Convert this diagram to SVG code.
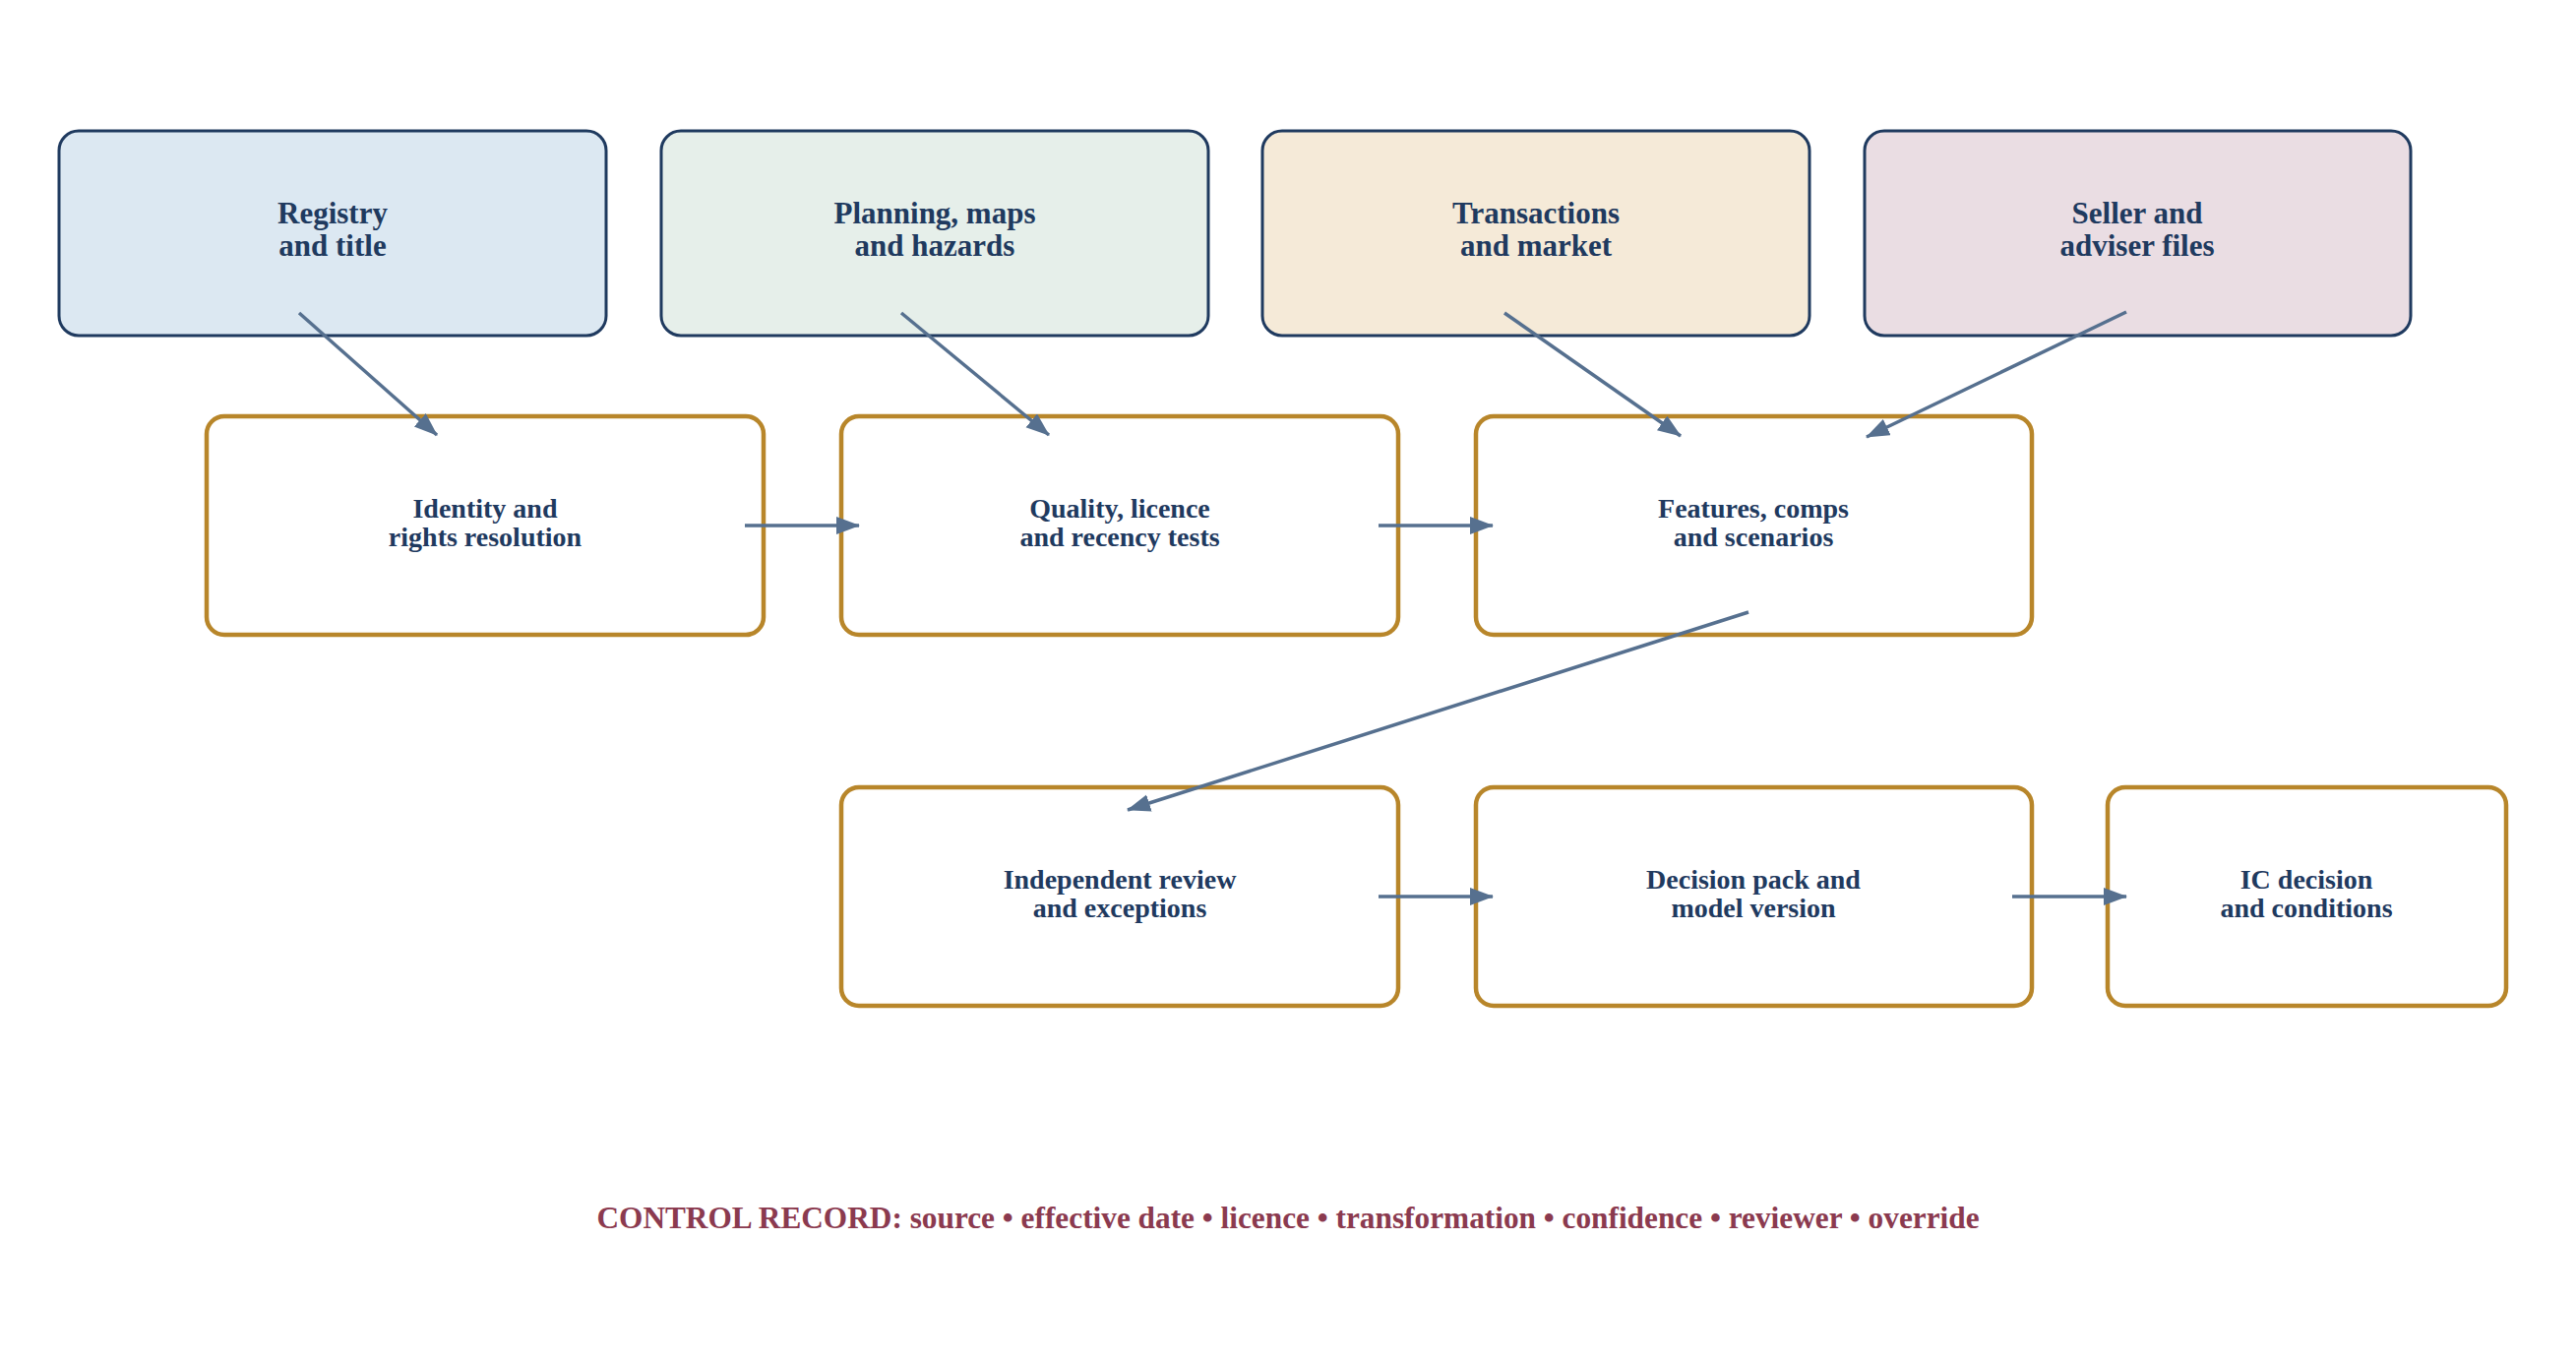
<svg xmlns="http://www.w3.org/2000/svg" width="2618" height="1386" viewBox="0 0 2618 1386">
<style>
.src{stroke:#1f3a5f;stroke-width:3}
.stage{fill:#ffffff;stroke:#b8862a;stroke-width:4.5}
.t1{font-family:"Liberation Serif","Times New Roman",serif;font-weight:bold;font-size:31px;fill:#1f3a5f;text-anchor:middle}
.t2{font-family:"Liberation Serif","Times New Roman",serif;font-weight:bold;font-size:28px;fill:#1f3a5f;text-anchor:middle}
.cap{font-family:"Liberation Serif","Times New Roman",serif;font-weight:bold;font-size:31.3px;fill:#8b3a4f;text-anchor:middle}
.conn line{stroke:#56708f;stroke-width:3.5;fill:none;marker-end:url(#ah)}
</style>
<defs>
<marker id="ah" markerUnits="userSpaceOnUse" markerWidth="26" markerHeight="20" refX="23" refY="9" orient="auto">
<path d="M0,0 L24,9 L0,18 Z" fill="#56708f"/>
</marker>
</defs>
<rect width="2618" height="1386" fill="#ffffff"/>

<g id="registry">
<rect class="src" x="60" y="133" width="556" height="208" rx="20" fill="#dce8f2"/>
<text class="t1" x="338" y="227">Registry</text>
<text class="t1" x="338" y="260">and title</text>
</g>
<g id="planning">
<rect class="src" x="672" y="133" width="556" height="208" rx="20" fill="#e6efea"/>
<text class="t1" x="950" y="227">Planning, maps</text>
<text class="t1" x="950" y="260">and hazards</text>
</g>
<g id="transactions">
<rect class="src" x="1283" y="133" width="556" height="208" rx="20" fill="#f5ead8"/>
<text class="t1" x="1561" y="227">Transactions</text>
<text class="t1" x="1561" y="260">and market</text>
</g>
<g id="seller">
<rect class="src" x="1895" y="133" width="555" height="208" rx="20" fill="#eaddE3"/>
<text class="t1" x="2172" y="227">Seller and</text>
<text class="t1" x="2172" y="260">adviser files</text>
</g>

<g id="identity">
<rect class="stage" x="210" y="423" width="566" height="222" rx="18"/>
<text class="t2" x="493" y="526">Identity and</text>
<text class="t2" x="493" y="555">rights resolution</text>
</g>
<g id="quality">
<rect class="stage" x="855" y="423" width="566" height="222" rx="18"/>
<text class="t2" x="1138" y="526">Quality, licence</text>
<text class="t2" x="1138" y="555">and recency tests</text>
</g>
<g id="features">
<rect class="stage" x="1500" y="423" width="565" height="222" rx="18"/>
<text class="t2" x="1782" y="526">Features, comps</text>
<text class="t2" x="1782" y="555">and scenarios</text>
</g>

<g id="review">
<rect class="stage" x="855" y="800" width="566" height="222" rx="18"/>
<text class="t2" x="1138" y="903">Independent review</text>
<text class="t2" x="1138" y="932">and exceptions</text>
</g>
<g id="decision">
<rect class="stage" x="1500" y="800" width="565" height="222" rx="18"/>
<text class="t2" x="1782" y="903">Decision pack and</text>
<text class="t2" x="1782" y="932">model version</text>
</g>
<g id="ic">
<rect class="stage" x="2142" y="800" width="405" height="222" rx="18"/>
<text class="t2" x="2344" y="903">IC decision</text>
<text class="t2" x="2344" y="932">and conditions</text>
</g>

<g id="connectors" class="conn">
<line x1="304" y1="318" x2="444" y2="442"/>
<line x1="916" y1="318" x2="1066" y2="442"/>
<line x1="1529" y1="318" x2="1708" y2="443"/>
<line x1="2161" y1="317" x2="1897" y2="444"/>
<line x1="757" y1="534" x2="873" y2="534"/>
<line x1="1401" y1="534" x2="1517" y2="534"/>
<line x1="1777" y1="622" x2="1146" y2="823"/>
<line x1="1401" y1="911" x2="1517" y2="911"/>
<line x1="2045" y1="911" x2="2161" y2="911"/>
</g>

<text class="cap" x="1309" y="1248">CONTROL RECORD: source • effective date • licence • transformation • confidence • reviewer • override</text>
</svg>
